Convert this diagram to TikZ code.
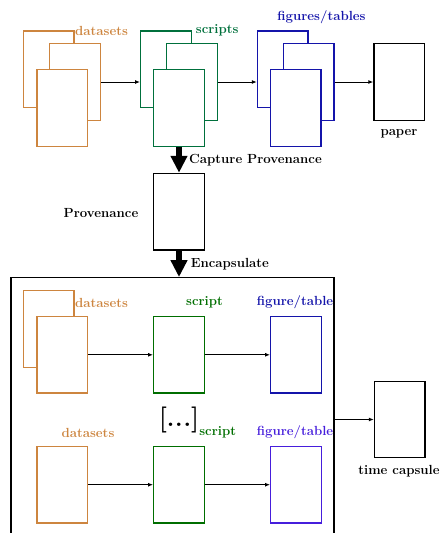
\documentclass[tikz,border=0pt]{standalone}
\usepackage{fontspec}
\usetikzlibrary{arrows.meta}
\definecolor{dscol}{RGB}{205,133,63}
\definecolor{sccol}{RGB}{0,112,60}
\definecolor{sccoltwo}{RGB}{0,110,0}
\definecolor{figcol}{RGB}{20,20,170}
\definecolor{figcoltwo}{RGB}{70,30,220}
\begin{document}
\begin{tikzpicture}[x=1pt,y=-1pt,
  doc/.style={draw, fill=white, line width=1.3pt, minimum width=50.6pt, minimum height=76.6pt, inner sep=0pt},
  lbl/.style={font=\fontsize{13.2}{15}\selectfont\bfseries, inner sep=0pt},
  flow/.style={-{Latex[length=5pt,width=4pt]}, line width=1pt},
  bigflow/.style={line width=6pt, -{Triangle[length=17pt,width=16pt]}}]
\useasboundingbox (0,0) rectangle (440,533);

% top row: datasets
\node[doc, draw=dscol] (dsb) at (48.8,69.3) {};
\node[doc, draw=dscol] (dsm) at (75,82) {};
\node[doc, draw=dscol] (dsf) at (62.2,108) {};
\node[lbl, text=dscol, anchor=west] (dslbl) at (75,31) {datasets};
% scripts
\node[doc, draw=sccol] (scb) at (166,69.3) {};
\node[doc, draw=sccol] (scm) at (192,82) {};
\node[doc, draw=sccol] (scf) at (179,108) {};
\node[lbl, text=sccol, anchor=west] (sclbl) at (195.7,30.5) {scripts};
% figures
\node[doc, draw=figcol] (fgb) at (282.8,69.3) {};
\node[doc, draw=figcol] (fgm) at (308.8,82) {};
\node[doc, draw=figcol] (fgf) at (295.7,108) {};
\node[lbl, text=figcol] (fglbl) at (321.5,17) {figures/tables};
% paper
\node[doc] (paper) at (399.3,82) {};
\node[lbl] (paperlbl) at (399,133.5) {paper};

\draw[flow] (dsm.east) -- (dsm.east -| scb.west);
\draw[flow] (scm.east) -- (scm.east -| fgb.west);
\draw[flow] (fgm.east) -- (paper.west);

% provenance
\node[doc] (prov) at (179,211.7) {};
\node[lbl] (provlbl) at (101,212.7) {Provenance};
\draw[bigflow] (scf.south) -- (prov.north);
\node[lbl, anchor=west] (caplbl) at (189,159.8) {Capture Provenance};

% capsule box
\node[draw, line width=1.3pt, minimum width=323pt, minimum height=267.3pt, inner sep=0pt] (capsule) at (172.5,411.35) {};
\draw[bigflow] (prov.south) -- (prov.south |- capsule.north);
\node[lbl, anchor=west] (enclbl) at (190.7,264) {Encapsulate};

% inner row 1
\node[doc, draw=dscol] (idsb) at (48.8,329) {};
\node[doc, draw=dscol] (idsf) at (62.2,354.8) {};
\node[lbl, text=dscol, anchor=west] (idslbl) at (75,303.3) {datasets};
\node[doc, draw=sccoltwo] (isc) at (179,354.8) {};
\node[lbl, text=sccoltwo] (isclbl) at (204.5,302.5) {script};
\node[doc, draw=figcol] (ifg) at (296,354.8) {};
\node[lbl, text=figcol] (ifglbl) at (295,302.5) {figure/table};
\draw[flow] (idsf) -- (isc);
\draw[flow] (isc) -- (ifg);

% inner row 2
\node[doc, draw=dscol] (jds) at (62.2,484.7) {};
\node[lbl, text=dscol] (jdslbl) at (88,433.3) {datasets};
\node[doc, draw=sccoltwo] (jsc) at (179,484.7) {};
\node[lbl, text=sccoltwo] (jsclbl) at (217.7,432.5) {script};
\node[doc, draw=figcoltwo] (jfg) at (296,484.7) {};
\node[lbl, text=figcoltwo] (jfglbl) at (295,432.5) {figure/table};
\node[lbl, anchor=base] (dots) at (179,426.5) {{\fontsize{26}{28}\selectfont [}{\fontsize{24}{26}\selectfont .\hspace{0.8pt}.\hspace{0.8pt}.}{\fontsize{26}{28}\selectfont ]}};
\draw[flow] (jds) -- (jsc);
\draw[flow] (jsc) -- (jfg);

% time capsule
\node[doc] (tc) at (399.8,419.5) {};
\node[lbl] (tclbl) at (399,471.5) {time capsule};
\draw[flow] (capsule.east |- tc.west) -- (tc.west);
\end{tikzpicture}
\end{document}
